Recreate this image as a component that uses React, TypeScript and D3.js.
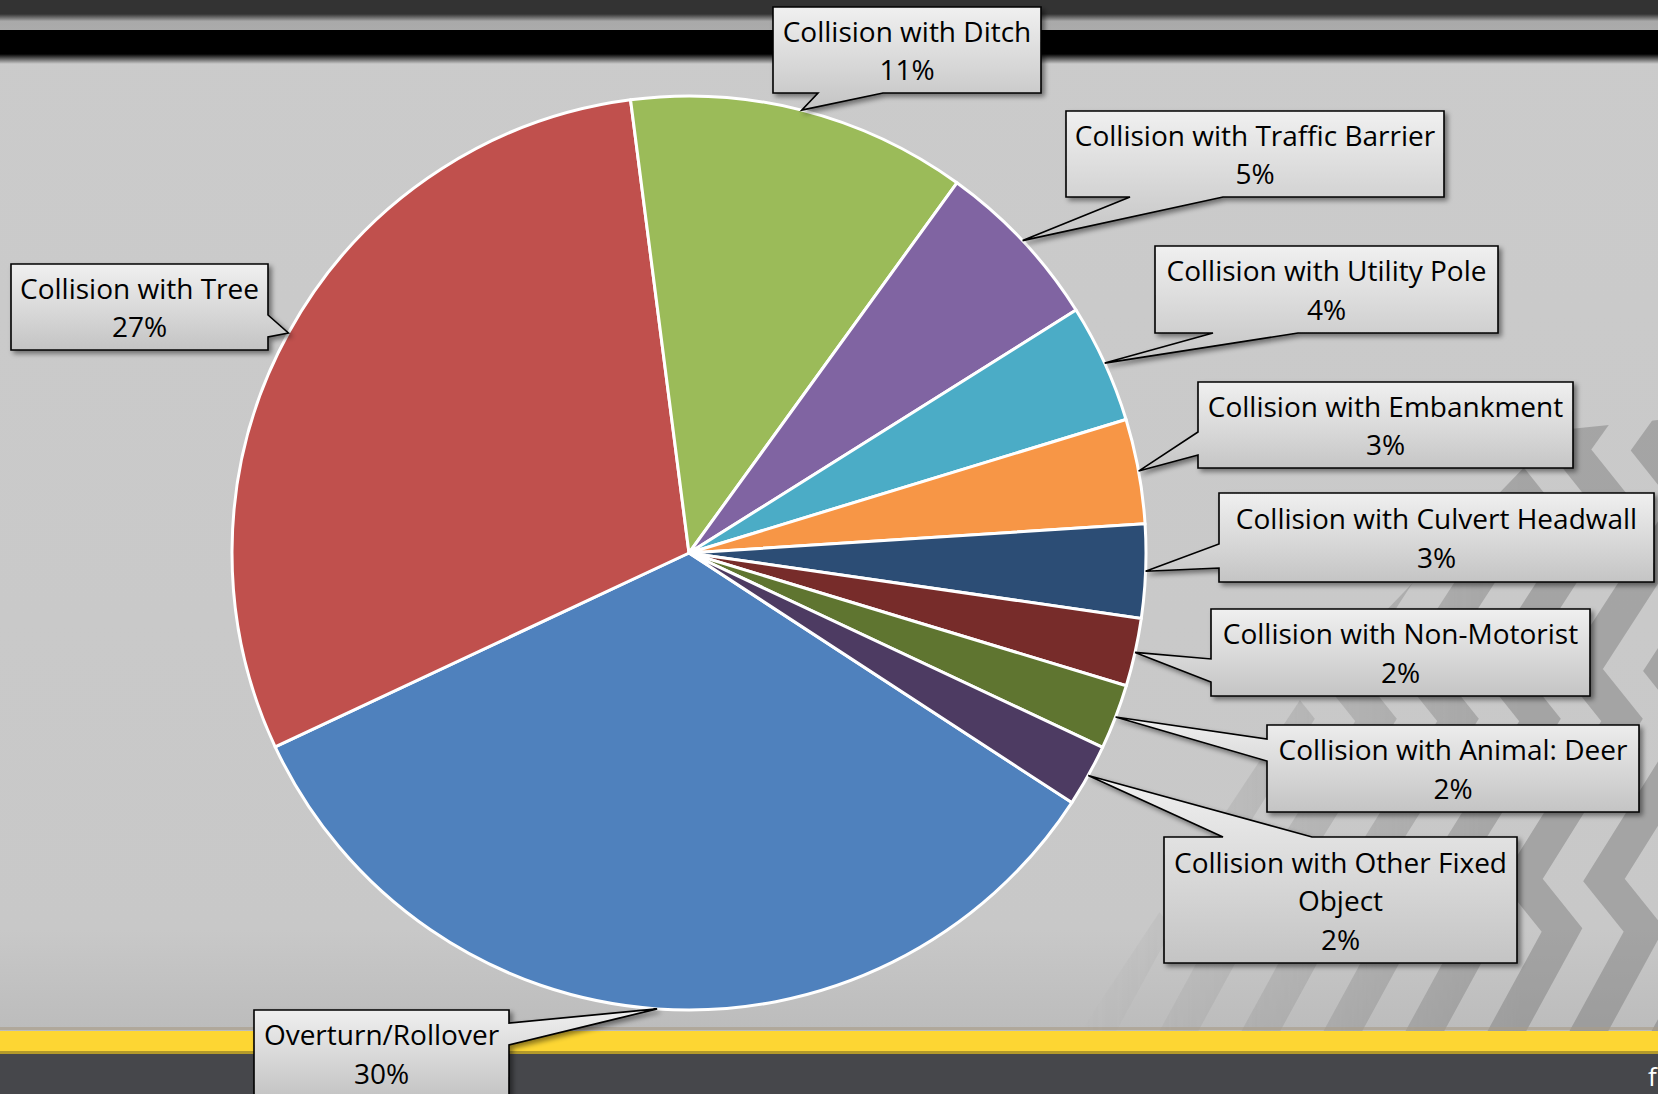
import React, { useEffect } from "react";
import * as d3 from "d3";

// ---- data ----
const categories = [
  "Overturn/Rollover",
  "Collision with Tree",
  "Collision with Ditch",
  "Collision with Traffic Barrier",
  "Collision with Utility Pole",
  "Collision with Embankment",
  "Collision with Culvert Headwall",
  "Collision with Non-Motorist",
  "Collision with Animal: Deer",
  "Collision with Other Fixed Object",
];
const values = [33.8, 29.9, 12.0, 6.1, 4.2, 3.7, 3.3, 2.4, 2.3, 2.2];
const percentLabels = ["30%", "27%", "11%", "5%", "4%", "3%", "3%", "2%", "2%", "2%"];
const labelLines = [
  ["Overturn/Rollover"],
  ["Collision with Tree"],
  ["Collision with Ditch"],
  ["Collision with Traffic Barrier"],
  ["Collision with Utility Pole"],
  ["Collision with Embankment"],
  ["Collision with Culvert Headwall"],
  ["Collision with Non-Motorist"],
  ["Collision with Animal: Deer"],
  ["Collision with Other Fixed", "Object"],
];
const colors = [
  "#4F81BD", "#C0504D", "#9BBB59", "#8064A2", "#4BACC6",
  "#F79646", "#2C4D75", "#772C2A", "#5F7530", "#4D3B62",
];

// ---- layout (callout boxes) ----
type Box = { x: number; y: number; w: number; h: number; side: string; p1: number; p2: number };
const boxes: Box[] = [
  { x: 254, y: 1010, w: 255, h: 87, side: "right", p1: 13, p2: 35 },
  { x: 11, y: 264, w: 257, h: 86, side: "right", p1: 51, p2: 73 },
  { x: 773, y: 7, w: 268, h: 86, side: "bottom", p1: 45, p2: 110 },
  { x: 1066, y: 111, w: 378, h: 86, side: "bottom", p1: 64, p2: 157 },
  { x: 1155, y: 246, w: 343, h: 87, side: "bottom", p1: 58, p2: 143 },
  { x: 1198, y: 382, w: 375, h: 86, side: "left", p1: 50, p2: 73 },
  { x: 1219, y: 493, w: 435, h: 89, side: "left", p1: 51, p2: 75 },
  { x: 1211, y: 609, w: 379, h: 87, side: "left", p1: 50, p2: 73 },
  { x: 1267, y: 725, w: 372, h: 87, side: "left", p1: 14, p2: 36 },
  { x: 1164, y: 837, w: 353, h: 126, side: "top", p1: 59, p2: 148 },
];

const W = 1658;
const H = 1094;
const cx = 689;
const cy = 553;
const R = 457;
const startDeg = 123.1;

function calloutPath(b: Box, tip: [number, number]) {
  const { x, y, w, h, side, p1, p2 } = b;
  const x2 = x + w;
  const y2 = y + h;
  let pts: [number, number][] = [];
  if (side === "top") pts = [[x, y], [x + p1, y], tip, [x + p2, y], [x2, y], [x2, y2], [x, y2]];
  else if (side === "right") pts = [[x, y], [x2, y], [x2, y + p1], tip, [x2, y + p2], [x2, y2], [x, y2]];
  else if (side === "bottom") pts = [[x, y], [x2, y], [x2, y2], [x + p2, y2], tip, [x + p1, y2], [x, y2]];
  else pts = [[x, y], [x2, y], [x2, y2], [x, y2], [x, y + p2], tip, [x, y + p1]];
  return "M" + pts.map((p) => p[0].toFixed(1) + "," + p[1].toFixed(1)).join("L") + "Z";
}

export default function App() {
  useEffect(() => {
    document.body.style.margin = "0";
    document.body.style.overflow = "hidden";
  }, []);

  const pie = d3
    .pie<number>()
    .sort(null)
    .value((d) => d)
    .startAngle((startDeg * Math.PI) / 180)
    .endAngle((startDeg * Math.PI) / 180 + 2 * Math.PI);
  const arcs = pie(values);
  const arc = d3.arc<d3.PieArcDatum<number>>().innerRadius(0).outerRadius(R);
  const edge = d3.arc<d3.PieArcDatum<number>>().innerRadius(R).outerRadius(R);

  const font = "'Open Sans', sans-serif";
  const lh = 38.5;

  // decorative zigzag texture (background)
  const zigzags: string[] = [];
  for (let i = -5; i < 9; i++) {
    const x0 = 1010 + i * 82;
    const line = d3.line()([
      [x0, 1040],
      [x0 + 60, 930],
      [x0 + 20, 880],
      [x0 + 120, 720],
      [x0 + 80, 670],
      [x0 + 190, 500],
      [x0 + 150, 450],
      [x0 + 200, 380],
    ] as [number, number][]);
    zigzags.push(line || "");
  }

  return (
    <svg
      width={W}
      height={H}
      viewBox={`0 0 ${W} ${H}`}
      style={{ position: "absolute", left: 0, top: 0, display: "block" }}
    >
      <defs>
        <linearGradient id="bg" x1="0" y1="0" x2="0" y2="1">
          <stop offset="0" stopColor="#cbcbcb" />
          <stop offset="0.85" stopColor="#c8c8c8" />
          <stop offset="1" stopColor="#b4b4b4" />
        </linearGradient>
        <linearGradient id="topFade" x1="0" y1="0" x2="0" y2="1">
          <stop offset="0" stopColor="#000" />
          <stop offset="1" stopColor="#cbcbcb" />
        </linearGradient>
        <linearGradient id="topLight" x1="0" y1="0" x2="0" y2="1">
          <stop offset="0" stopColor="#333" />
          <stop offset="0.45" stopColor="#a9a9a9" />
          <stop offset="1" stopColor="#ababab" />
        </linearGradient>
        <linearGradient id="boxGrad" x1="0" y1="0" x2="0" y2="1">
          <stop offset="0" stopColor="#f0f0f0" />
          <stop offset="1" stopColor="#c4c4c4" />
        </linearGradient>
        <linearGradient id="patFadeX" x1="1080" y1="0" x2="1520" y2="0" gradientUnits="userSpaceOnUse">
          <stop offset="0" stopColor="#fff" stopOpacity="0" />
          <stop offset="1" stopColor="#fff" stopOpacity="1" />
        </linearGradient>
        <mask id="patMask" maskUnits="userSpaceOnUse" x="1000" y="380" width="658" height="660">
          <rect x="1000" y="380" width="658" height="660" fill="url(#patFadeX)" />
        </mask>
        <clipPath id="patClip">
          <polygon points="1080,1032 1300,700 1560,430 1658,420 1658,1032" />
        </clipPath>
        <filter id="shadow" x="-10%" y="-10%" width="130%" height="140%">
          <feDropShadow dx="3" dy="3" stdDeviation="2.5" floodColor="#000" floodOpacity="0.45" />
        </filter>
      </defs>

      {/* background */}
      <rect x={0} y={0} width={W} height={H} fill="url(#bg)" />
      <g clipPath="url(#patClip)" mask="url(#patMask)" opacity={0.4}>
        {zigzags.map((d, i) => (
          <path key={i} d={d} fill="none" stroke="#6f6f6f" strokeWidth={34} strokeLinejoin="miter" />
        ))}
      </g>
      <rect x={0} y={0} width={W} height={14} fill="#333" />
      <rect x={0} y={14} width={W} height={16} fill="url(#topLight)" />
      <rect x={0} y={30} width={W} height={24} fill="#000" />
      <rect x={0} y={54} width={W} height={10} fill="url(#topFade)" />
      <rect x={0} y={1027} width={W} height={3} fill="#a89b86" opacity={0.6} />
      <rect x={0} y={1031} width={W} height={22} fill="#fdd633" />
      <rect x={0} y={1051} width={W} height={3} fill="#b49a2a" />
      <rect x={0} y={1054} width={W} height={H - 1054} fill="#46474b" />
      <text x={1648} y={1086} fill="#fff" fontFamily={font} fontSize={26}>f</text>

      {/* pie */}
      <g transform={`translate(${cx},${cy})`}>
        {arcs.map((a, i) => (
          <path key={i} d={arc(a) || ""} fill={colors[i]} stroke="#fff" strokeWidth={3} strokeLinejoin="round" />
        ))}
      </g>

      {/* callouts */}
      {arcs.map((a, i) => {
        const c = edge.centroid(a);
        const tip: [number, number] = [cx + c[0], cy + c[1]];
        const b = boxes[i];
        const lines = [...labelLines[i], percentLabels[i]];
        const mid = b.y + b.h / 2;
        const first = mid - ((lines.length - 1) * lh) / 2 + 11;
        return (
          <g key={"c" + i}>
            <path
              d={calloutPath(b, tip)}
              fill="url(#boxGrad)"
              stroke="#000"
              strokeWidth={1.6}
              strokeLinejoin="miter"
              filter="url(#shadow)"
            />
            {lines.map((t, j) => (
              <text
                key={j}
                x={b.x + b.w / 2}
                y={first + j * lh}
                textAnchor="middle"
                fontFamily={font}
                fontSize={28}
                fill="#000"
              >
                {t}
              </text>
            ))}
          </g>
        );
      })}
    </svg>
  );
}
